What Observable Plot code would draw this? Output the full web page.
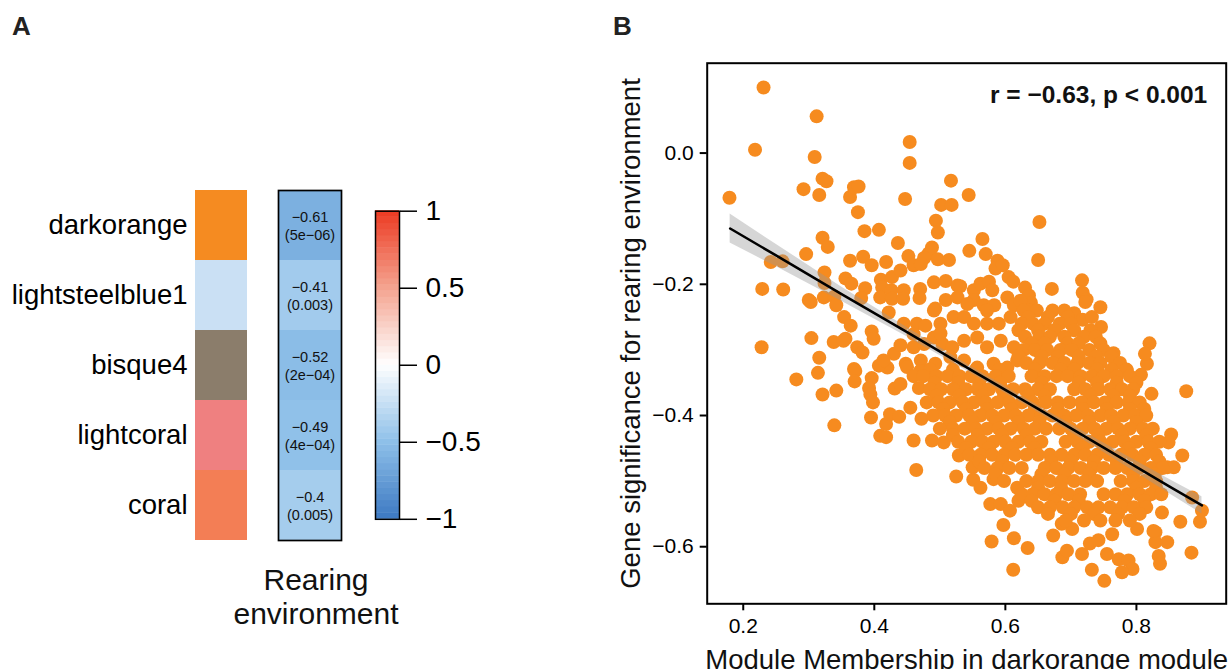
<!DOCTYPE html>
<html><head><meta charset="utf-8">
<script src="https://cdn.jsdelivr.net/npm/d3@7"></script>
<script src="https://cdn.jsdelivr.net/npm/@observablehq/plot@0.6"></script>
<style>
html,body{margin:0;padding:0;background:#fff;overflow:hidden;width:1231px;height:669px;font-family:"Liberation Sans",Arial,Helvetica,sans-serif;}
.abs{position:absolute;}
.panel-label{position:absolute;font-weight:bold;font-size:26px;line-height:1;color:#222;}
</style></head><body>
<div class="panel-label" style="left:12px;top:13px">A</div>
<div class="panel-label" style="left:613px;top:13px">B</div>
<div id="a1" class="abs" style="left:0px;top:150px;width:250px;height:420px"></div>
<div id="a2" class="abs" style="left:220px;top:150px;width:190px;height:490px"></div>
<div id="a3" class="abs" style="left:360px;top:180px;width:130px;height:370px"></div>
<div id="b" class="abs" style="left:600px;top:40px;width:631px;height:629px"></div>
<script>
// ---------- Panel A data ----------
const modules = ["darkorange", "lightsteelblue1", "bisque4", "lightcoral", "coral"];
const moduleColors = ["#F58B21", "#CAE0F4", "#8B7D6B", "#EF8080", "#F37E55"];
const traitCor = [-0.61, -0.41, -0.52, -0.49, -0.4];
const traitP = ["5e\u221206", "0.003", "2e\u221204", "4e\u221204", "0.005"];
const traitTitle = "Rearing\nenvironment";
const legendTicks = [-1, -0.5, 0, 0.5, 1];
const colorDomain = [-1, -0.5, 0, 0.5, 1];
const colorRange = ["#3D79C2", "#8EC0E9", "#FFFFFF", "#F4A38F", "#EC3A22"];

// ---------- Panel B data ----------
const xTicks = [0.2, 0.4, 0.6, 0.8];
const yTicks = [0, -0.2, -0.4, -0.6];
const annotation = "r = \u22120.63, p < 0.001";
const xTitle = "Module Membership in darkorange module";
const yTitle = "Gene significance for rearing environment";
const fitX = [0.18, 0.25, 0.35, 0.45, 0.55, 0.65, 0.75, 0.85, 0.90];
const fitY = [-0.115, -0.156, -0.215, -0.273, -0.332, -0.390, -0.449, -0.508, -0.537];
const fitHalf = [0.022, 0.017, 0.011, 0.007, 0.005, 0.005, 0.007, 0.011, 0.013];

const outerPoints = [
[0.231,0.100],[0.312,0.056],[0.218,0.005],[0.309,-0.006],[0.454,0.017],[0.454,-0.015],
[0.179,-0.068],[0.292,-0.055],[0.316,-0.064],[0.321,-0.039],[0.327,-0.043],[0.363,-0.067],
[0.369,-0.052],[0.376,-0.051],[0.375,-0.090],[0.447,-0.070],[0.517,-0.042],[0.544,-0.064],
[0.502,-0.079],[0.518,-0.079],[0.494,-0.103],[0.497,-0.121],[0.385,-0.119],[0.407,-0.117],
[0.436,-0.137],[0.652,-0.105],[0.321,-0.129],[0.329,-0.143],[0.296,-0.154],[0.242,-0.166],
[0.260,-0.165],[0.229,-0.207],[0.261,-0.208],[0.565,-0.131],[0.545,-0.149],[0.570,-0.154],
[0.650,-0.163],[0.483,-0.153],[0.488,-0.144],[0.476,-0.160],
[0.324,-0.182],[0.324,-0.198],[0.300,-0.224],[0.323,-0.220],[0.339,-0.219],[0.342,-0.232],
[0.356,-0.191],[0.365,-0.199],[0.363,-0.164],[0.383,-0.158],[0.396,-0.171],[0.418,-0.166],
[0.386,-0.206],[0.380,-0.221],[0.410,-0.193],[0.412,-0.205],[0.409,-0.220],[0.427,-0.189],
[0.426,-0.209],[0.427,-0.222],[0.440,-0.179],[0.445,-0.209],[0.444,-0.222],[0.452,-0.157],
[0.460,-0.171],[0.471,-0.169],[0.497,-0.162],[0.514,-0.163],[0.470,-0.207],[0.491,-0.197],
[0.509,-0.195],[0.527,-0.202],[0.469,-0.221],[0.493,-0.237],[0.509,-0.224],[0.588,-0.164],
[0.585,-0.176],[0.596,-0.171],[0.605,-0.189],[0.612,-0.196],[0.630,-0.205],[0.636,-0.217],
[0.639,-0.228],[0.636,-0.240],[0.671,-0.207],[0.717,-0.194],[0.718,-0.213],[0.724,-0.223],
[0.745,-0.235],[0.531,-0.203],[0.552,-0.209],[0.562,-0.199],[0.575,-0.196],[0.580,-0.209],
[0.603,-0.220],[0.527,-0.220],[0.552,-0.224],[0.567,-0.232],[0.583,-0.232],[0.303,-0.227],
[0.542,-0.230],[0.572,-0.240],[0.613,-0.232],[0.422,-0.243],[0.445,-0.260],[0.465,-0.260],
[0.478,-0.263],[0.501,-0.260],[0.521,-0.250],[0.537,-0.250],[0.552,-0.260],[0.572,-0.260],
[0.590,-0.260],[0.608,-0.250],[0.460,-0.296],[0.476,-0.291],[0.491,-0.281],[0.504,-0.291],
[0.519,-0.296],[0.537,-0.286],[0.557,-0.281],[0.572,-0.296],[0.593,-0.286],[0.613,-0.296],
[0.420,-0.327],[0.448,-0.321],[0.471,-0.316],[0.493,-0.321],[0.516,-0.311],[0.537,-0.316],
[0.557,-0.327],[0.582,-0.321],[0.603,-0.327],[0.618,-0.316],[0.354,-0.250],[0.364,-0.263],
[0.396,-0.272],[0.399,-0.283],[0.338,-0.288],[0.356,-0.283],[0.374,-0.296],[0.382,-0.304],
[0.430,-0.306],[0.440,-0.293],[0.369,-0.329],[0.460,-0.276],[0.501,-0.275],[0.491,-0.240],
[0.228,-0.296],[0.281,-0.345],[0.304,-0.282],[0.316,-0.312],[0.314,-0.335],[0.321,-0.368],
[0.342,-0.362],[0.339,-0.415],[0.353,-0.286],[0.371,-0.332],[0.370,-0.348],[0.396,-0.343],
[0.392,-0.358],[0.394,-0.368],[0.398,-0.380],[0.395,-0.403],[0.409,-0.431],[0.418,-0.433],
[0.418,-0.413],[0.424,-0.398],[0.438,-0.402],[0.407,-0.324],[0.414,-0.316],[0.431,-0.359],
[0.440,-0.352],[0.450,-0.326],[0.455,-0.388],[0.460,-0.438],[0.464,-0.483],[0.472,-0.405],
[0.468,-0.358],[0.470,-0.332],[0.460,-0.340],[0.488,-0.438],[0.506,-0.441],[0.525,-0.493],
[0.529,-0.461],
[0.550,-0.479],[0.551,-0.498],[0.562,-0.510],[0.582,-0.497],[0.577,-0.535],[0.593,-0.535],
[0.607,-0.545],[0.620,-0.530],[0.597,-0.567],[0.579,-0.592],[0.613,-0.587],[0.612,-0.635],
[0.618,-0.510],
[0.634,-0.602],[0.673,-0.583],[0.686,-0.565],[0.687,-0.616],[0.694,-0.606],[0.717,-0.611],
[0.702,-0.573],[0.732,-0.635],[0.729,-0.595],[0.742,-0.590],[0.755,-0.611],[0.763,-0.581],
[0.751,-0.652],[0.773,-0.619],[0.788,-0.621],[0.794,-0.634],[0.778,-0.639],[0.801,-0.573],
[0.829,-0.578],[0.829,-0.593],[0.847,-0.593],[0.834,-0.614],[0.836,-0.626],[0.867,-0.562],
[0.897,-0.562],[0.900,-0.545],[0.885,-0.525],[0.884,-0.609],[0.876,-0.363],[0.870,-0.461],
[0.853,-0.429],[0.849,-0.441],[0.839,-0.548],[0.847,-0.479],[0.857,-0.479],[0.826,-0.576],
[0.816,-0.321],[0.807,-0.338],[0.823,-0.367],[0.785,-0.331],[0.746,-0.265],[0.705,-0.244],
[0.718,-0.254],[0.732,-0.250],[0.820,-0.290],[0.813,-0.306],[0.765,-0.305],[0.722,-0.227],
[0.623,-0.225]
];

// dense core of the cloud, read row by row: [y, [x values]]
const coreRows = [
[-0.24, [0.628,0.648,0.672,0.690]],
[-0.25, [0.635,0.665,0.695]],
[-0.26, [0.625,0.642,0.660,0.683,0.700]],
[-0.27, [0.620,0.650,0.675,0.705,0.730]],
[-0.28, [0.630,0.652,0.668,0.690,0.720,0.738]],
[-0.29, [0.640,0.660,0.695,0.712,0.745]],
[-0.30, [0.628,0.645,0.664,0.684,0.701,0.728,0.750]],
[-0.31, [0.620,0.655,0.680,0.712,0.738,0.762]],
[-0.32, [0.632,0.652,0.672,0.690,0.710,0.728,0.745,0.775]],
[-0.33, [0.485,0.520,0.555,0.590,0.645,0.685,0.705,0.740,0.762,0.785]],
[-0.34, [0.475,0.495,0.512,0.530,0.548,0.565,0.585,0.605,0.640,0.660,0.678,0.695,0.715,0.732,0.750,0.770,0.790]],
[-0.35, [0.492,0.528,0.560,0.592,0.655,0.712,0.740,0.770,0.800]],
[-0.36, [0.485,0.502,0.520,0.540,0.558,0.575,0.595,0.612,0.630,0.650,0.668,0.705,0.722,0.742,0.760,0.778,0.795]],
[-0.37, [0.495,0.530,0.565,0.598,0.635,0.660,0.730,0.765,0.790]],
[-0.38, [0.480,0.498,0.515,0.535,0.552,0.570,0.588,0.606,0.625,0.642,0.662,0.680,0.698,0.716,0.735,0.752,0.770,0.788,0.805]],
[-0.39, [0.505,0.540,0.572,0.610,0.645,0.680,0.718,0.755,0.790,0.812]],
[-0.40, [0.490,0.508,0.525,0.545,0.562,0.580,0.598,0.616,0.635,0.655,0.672,0.690,0.708,0.726,0.745,0.762,0.780,0.798,0.815]],
[-0.41, [0.515,0.550,0.585,0.620,0.652,0.692,0.728,0.765,0.800]],
[-0.42, [0.500,0.520,0.538,0.555,0.572,0.590,0.608,0.628,0.645,0.662,0.682,0.700,0.718,0.736,0.754,0.772,0.790,0.810,0.825]],
[-0.43, [0.520,0.558,0.595,0.632,0.705,0.742,0.778,0.815]],
[-0.44, [0.528,0.548,0.565,0.582,0.600,0.620,0.638,0.655,0.692,0.710,0.728,0.745,0.764,0.782,0.800,0.818,0.835]],
[-0.45, [0.540,0.575,0.610,0.645,0.718,0.752,0.788,0.822]],
[-0.46, [0.545,0.562,0.580,0.598,0.615,0.632,0.650,0.668,0.686,0.705,0.722,0.740,0.758,0.776,0.794,0.812,0.830]],
[-0.47, [0.560,0.595,0.670,0.700,0.735,0.770,0.805,0.835]],
[-0.48, [0.568,0.588,0.606,0.625,0.660,0.678,0.696,0.715,0.732,0.750,0.768,0.786,0.804,0.822,0.840]],
[-0.49, [0.585,0.655,0.690,0.728,0.795,0.828]],
[-0.50, [0.598,0.632,0.650,0.668,0.686,0.705,0.722,0.740,0.776,0.795,0.812,0.830]],
[-0.51, [0.650,0.685,0.800,0.830]],
[-0.52, [0.625,0.642,0.660,0.678,0.696,0.714,0.750,0.768,0.786,0.805,0.822,0.838]],
[-0.53, [0.640,0.675,0.712,0.782,0.812]],
[-0.54, [0.650,0.668,0.688,0.705,0.725,0.742,0.760,0.778,0.796,0.815]],
[-0.55, [0.665,0.700,0.735,0.772,0.805]],
[-0.56, [0.692,0.720,0.745,0.768,0.790]]
];

// ---------- tables ----------
const fontFamily = "'Liberation Sans', Arial, Helvetica, sans-serif";
const svgStyle = `background: none; overflow: visible; max-width: none; font-family: ${fontFamily};`;
const moduleTable = modules.map((m, i) => ({module: m, color: moduleColors[i]}));
const fmtR = v => String(v).replace("-", "\u2212");
const traitTable = modules.map((m, i) => ({module: m, r: traitCor[i], label: fmtR(traitCor[i]) + "\n(" + traitP[i] + ")"}));
const colorOpts = {type: "linear", domain: colorDomain, range: colorRange, interpolate: "rgb"};
const steps = d3.range(50).map(i => ({lo: -1 + i * 0.04, hi: -1 + (i + 1) * 0.04 + 0.003, v: -1 + (i + 0.5) * 0.04}));
const points = outerPoints.map(([x, y]) => ({x, y}))
  .concat(coreRows.flatMap(([y, xs]) => xs.map(x => ({x, y}))));
const fit = fitX.map((x, i) => ({x, y: fitY[i], lo: fitY[i] - fitHalf[i], hi: fitY[i] + fitHalf[i]}));

// ---------- Panel A: module colours + labels ----------
document.getElementById("a1").append(Plot.plot({
  width: 250, height: 420,
  marginLeft: 195, marginRight: 3, marginTop: 40, marginBottom: 30,
  style: svgStyle,
  x: {domain: ["m"], padding: 0, axis: null},
  y: {domain: modules, padding: 0},
  color: {type: "identity"},
  marks: [
    Plot.cell(moduleTable, {x: () => "m", y: "module", fill: "color", inset: 0}),
    Plot.axisY({tickSize: 0, tickPadding: 8, fontSize: 27.5, label: null})
  ]
}));

// ---------- Panel A: trait correlations ----------
document.getElementById("a2").append(Plot.plot({
  width: 190, height: 490,
  marginLeft: 58, marginRight: 69, marginTop: 40, marginBottom: 100,
  style: svgStyle,
  x: {domain: ["t"], padding: 0, axis: null},
  y: {domain: modules, padding: 0, axis: null},
  color: colorOpts,
  marks: [
    Plot.cell(traitTable, {x: () => "t", y: "module", fill: "r", inset: 0}),
    Plot.text(traitTable, {x: () => "t", y: "module", text: "label", fontSize: 14.5, lineHeight: 1.22, fill: "#111"}),
    Plot.frame({stroke: "black", strokeWidth: 1.7}),
    Plot.text([traitTitle], {text: d => d, frameAnchor: "bottom", dx: 6, dy: 25, lineAnchor: "top", fontSize: 30, lineHeight: 1.137, fill: "#111"})
  ]
}));

// ---------- Panel A: colour bar ----------
document.getElementById("a3").append(Plot.plot({
  width: 130, height: 370,
  marginLeft: 15, marginRight: 91, marginTop: 30.7, marginBottom: 31.2,
  style: svgStyle,
  x: {domain: [0, 1], axis: null},
  y: {domain: [-1, 1]},
  color: colorOpts,
  marks: [
    Plot.rect(steps, {x1: 0, x2: 1, y1: "lo", y2: "hi", fill: "v"}),
    Plot.frame({stroke: "black", strokeWidth: 1.5}),
    Plot.axisY({anchor: "right", ticks: legendTicks, tickFormat: d3.format("~g"), tickSize: 17, tickPadding: 9, fontSize: 28, strokeWidth: 1.5, label: null})
  ]
}));

// ---------- Panel B: scatter ----------
document.getElementById("b").append(Plot.plot({
  width: 631, height: 629,
  marginLeft: 106.7, marginRight: 5.3, marginTop: 22.7, marginBottom: 65.7,
  style: svgStyle,
  x: {domain: [0.145, 0.937]},
  y: {domain: [-0.687, 0.137]},
  marks: [
    Plot.dot(points, {x: "x", y: "y", r: 7, fill: "#F68B1F"}),
    Plot.areaY(fit, {x: "x", y1: "lo", y2: "hi", fill: "#999999", fillOpacity: 0.4}),
    Plot.line(fit, {x: "x", y: "y", stroke: "black", strokeWidth: 2.5}),
    Plot.frame({stroke: "black", strokeWidth: 2}),
    Plot.axisX({ticks: xTicks, tickFormat: ".1f", tickSize: 7, tickPadding: 7, fontSize: 21, strokeWidth: 2, label: null}),
    Plot.axisY({ticks: yTicks, tickFormat: ".1f", tickSize: 7, tickPadding: 6.5, fontSize: 21, strokeWidth: 2, label: null}),
    Plot.text([annotation], {text: d => d, frameAnchor: "top-right", dx: -19, dy: 32, lineAnchor: "middle", textAnchor: "end", fontWeight: "bold", fontSize: 24.5, fill: "#111"}),
    Plot.text([yTitle], {text: d => d, frameAnchor: "left", rotate: -90, dx: -76, lineAnchor: "middle", textAnchor: "middle", fontSize: 27.5, fill: "#111"}),
    Plot.text([xTitle], {text: d => d, frameAnchor: "bottom", dy: 56, lineAnchor: "middle", textAnchor: "middle", fontSize: 27.5, fill: "#111"})
  ]
}));
</script>
</body></html>
